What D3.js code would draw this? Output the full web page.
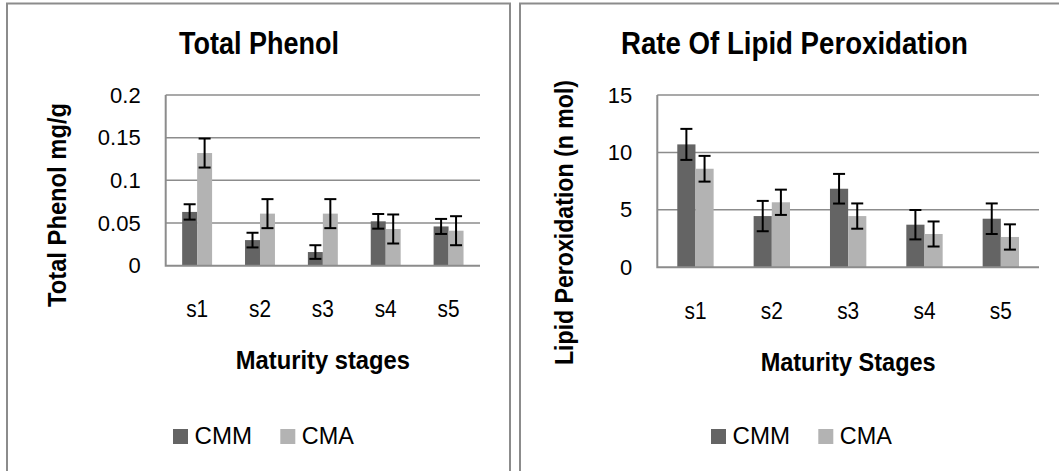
<!DOCTYPE html>
<html>
<head>
<meta charset="utf-8">
<script src="https://cdn.jsdelivr.net/npm/d3@7"></script>
<style>
  body { margin: 0; background: #fff; }
  svg { display: block; }
</style>
</head>
<body>
<div id="chart"></div>
<script>
// data
const categories = ["s1", "s2", "s3", "s4", "s5"];
const seriesNames = ["CMM", "CMA"];
const seriesColors = ["#646464", "#b3b3b3"];

const phenolCMM = [0.063, 0.030, 0.016, 0.052, 0.046];
const phenolCMA = [0.132, 0.061, 0.061, 0.043, 0.041];
const phenolErrCMM = [0.009, 0.0086, 0.008, 0.0086, 0.0088];
const phenolErrCMA = [0.017, 0.017, 0.017, 0.017, 0.017];
const phenolTicks = [0, 0.05, 0.1, 0.15, 0.2];

const lipidCMM = [10.7, 4.46, 6.84, 3.71, 4.23];
const lipidCMA = [8.58, 5.66, 4.46, 2.9, 2.64];
const lipidErrCMM = [1.35, 1.32, 1.29, 1.28, 1.33];
const lipidErrCMA = [1.12, 1.1, 1.1, 1.09, 1.1];
const lipidTicks = [0, 5, 10, 15];

const width = 1059, height = 471;

const svg = d3.select("#chart").append("svg")
    .attr("width", width)
    .attr("height", height)
    .style("font-family", "'Liberation Sans', Arial, sans-serif");

// the two panels
const panels = [
  {
    frame: [7, 3.5, 503, 520],
    title: "Total Phenol", titleX: 259, titleLen: 160,
    yTitle: "Total Phenol mg/g", yTitleX: 66, yTitleY: 205, yTitleLen: 204,
    xTitle: "Maturity stages", xTitleLen: 174, xTitleY: 369,
    x0: 165.7, x1: 480, yTop: 95, yBottom: 265.7,
    ymax: 0.2, ticks: phenolTicks,
    values: [phenolCMM, phenolCMA], errors: [phenolErrCMM, phenolErrCMA],
    tickY: 317, legendX: 173
  },
  {
    frame: [520, 3.5, 600, 520],
    title: "Rate Of Lipid Peroxidation", titleX: 794.5, titleLen: 347,
    yTitle: "Lipid Peroxidation (n mol)", yTitleX: 573, yTitleY: 222.5, yTitleLen: 285,
    xTitle: "Maturity Stages", xTitleLen: 175, xTitleY: 371,
    x0: 657.3, x1: 1039, yTop: 95, yBottom: 267.3,
    ymax: 15, ticks: lipidTicks,
    values: [lipidCMM, lipidCMA], errors: [lipidErrCMM, lipidErrCMA],
    tickY: 319, legendX: 711
  }
];
const legendLens = [57.5, 52];

panels.forEach(p => {
  const g = svg.append("g");

  g.append("rect")
      .attr("x", p.frame[0]).attr("y", p.frame[1])
      .attr("width", p.frame[2]).attr("height", p.frame[3])
      .attr("fill", "#fff")
      .attr("stroke", "#8c8c8c")
      .attr("stroke-width", 2);

  const x = d3.scaleBand().domain(categories).range([p.x0, p.x1]);
  const xs = d3.scaleBand().domain(seriesNames)
      .range([0, x.bandwidth()])
      .paddingInner(0).paddingOuter(1.1);
  const y = d3.scaleLinear().domain([0, p.ymax]).range([p.yBottom, p.yTop]);

  // gridlines
  g.append("g")
    .selectAll("line")
    .data(p.ticks.filter(t => t > 0))
    .join("line")
      .attr("x1", p.x0).attr("x2", p.x1)
      .attr("y1", d => y(d)).attr("y2", d => y(d))
      .attr("stroke", "#8c8c8c")
      .attr("stroke-width", 1.5);

  // y axis labels
  const yAxis = g.append("g")
      .attr("transform", `translate(${p.x0 - 25},0)`)
      .call(d3.axisLeft(y).tickValues(p.ticks).tickSize(0).tickPadding(0).tickFormat(d => String(d)));
  yAxis.select(".domain").remove();
  yAxis.selectAll("text")
      .attr("font-size", 22)
      .attr("font-family", "'Liberation Sans', Arial, sans-serif")
      .attr("fill", "#000");

  // bars
  const rows = categories.map((c, i) => seriesNames.map((s, j) => ({
    cat: c, s: s, j: j, v: p.values[j][i], e: p.errors[j][i]
  })));

  const grp = g.append("g")
    .selectAll("g")
    .data(rows)
    .join("g")
      .attr("transform", d => `translate(${x(d[0].cat)},0)`);

  grp.selectAll("rect")
    .data(d => d)
    .join("rect")
      .attr("x", d => xs(d.s))
      .attr("width", xs.bandwidth())
      .attr("y", d => y(d.v))
      .attr("height", d => y(0) - y(d.v))
      .attr("fill", d => seriesColors[d.j]);

  // error bars
  const eb = grp.selectAll("g.err")
    .data(d => d)
    .join("g")
      .attr("class", "err")
      .attr("transform", d => `translate(${xs(d.s) + xs.bandwidth() / 2},0)`)
      .attr("stroke", "#000")
      .attr("stroke-width", 2);
  eb.append("line")
      .attr("y1", d => y(d.v - d.e)).attr("y2", d => y(d.v + d.e));
  eb.append("line")
      .attr("x1", -6).attr("x2", 6)
      .attr("y1", d => y(d.v + d.e)).attr("y2", d => y(d.v + d.e));
  eb.append("line")
      .attr("x1", -6).attr("x2", 6)
      .attr("y1", d => y(d.v - d.e)).attr("y2", d => y(d.v - d.e));

  // axis lines
  g.append("path")
      .attr("d", `M${p.x0},${p.yTop}V${p.yBottom}H${p.x1}`)
      .attr("fill", "none")
      .attr("stroke", "#8c8c8c")
      .attr("stroke-width", 2);

  // x tick labels
  g.append("g")
    .selectAll("text")
    .data(categories)
    .join("text")
      .attr("x", d => x(d) + x.bandwidth() / 2)
      .attr("y", p.tickY)
      .attr("text-anchor", "middle")
      .attr("font-size", 23)
      .attr("textLength", 22).attr("lengthAdjust", "spacingAndGlyphs")
      .text(d => d);

  // titles
  g.append("text")
      .attr("x", p.titleX).attr("y", 54)
      .attr("text-anchor", "middle")
      .attr("font-size", 31).attr("font-weight", "bold")
      .attr("textLength", p.titleLen).attr("lengthAdjust", "spacingAndGlyphs")
      .text(p.title);

  g.append("text")
      .attr("x", (p.x0 + p.x1) / 2).attr("y", p.xTitleY)
      .attr("text-anchor", "middle")
      .attr("font-size", 25).attr("font-weight", "bold")
      .attr("textLength", p.xTitleLen).attr("lengthAdjust", "spacingAndGlyphs")
      .text(p.xTitle);

  g.append("text")
      .attr("transform", `translate(${p.yTitleX},${p.yTitleY}) rotate(-90)`)
      .attr("text-anchor", "middle")
      .attr("font-size", 25).attr("font-weight", "bold")
      .attr("textLength", p.yTitleLen).attr("lengthAdjust", "spacingAndGlyphs")
      .text(p.yTitle);

  // legend
  const leg = g.append("g")
    .selectAll("g")
    .data(seriesNames)
    .join("g")
      .attr("transform", (d, i) => `translate(${p.legendX + i * 107.3},429)`);
  leg.append("rect")
      .attr("width", 15).attr("height", 15)
      .attr("fill", (d, i) => seriesColors[i]);
  leg.append("text")
      .attr("x", 21.5).attr("y", 15)
      .attr("font-size", 24)
      .attr("textLength", (d, i) => legendLens[i]).attr("lengthAdjust", "spacingAndGlyphs")
      .text(d => d);
});
</script>
</body>
</html>
